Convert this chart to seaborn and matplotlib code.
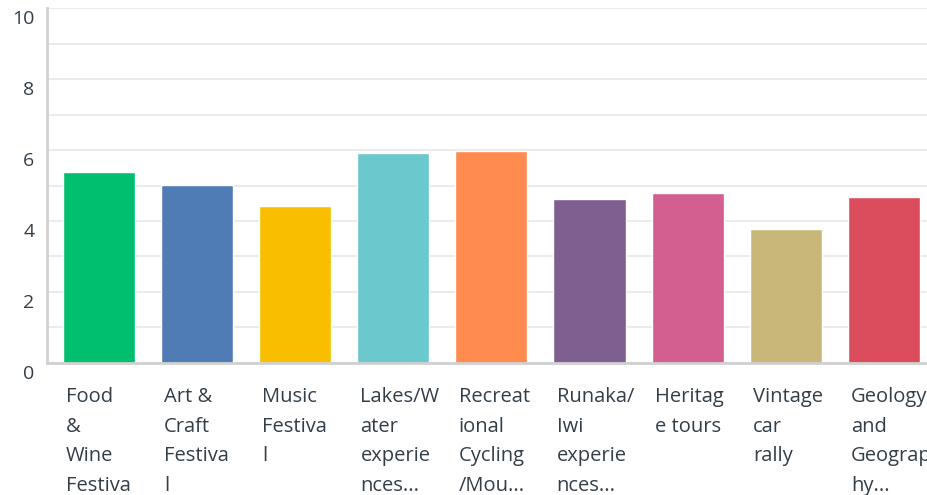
import matplotlib
matplotlib.use("Agg")
import matplotlib.pyplot as plt
import matplotlib.transforms as mtransforms
import seaborn as sns
import pandas as pd

categories = ["Food & Wine Festival", "Art & Craft Festival", "Music Festival",
              "Lakes/Water experiences", "Recreational Cycling/Mountain biking",
              "Runaka/Iwi experiences", "Heritage tours", "Vintage car rally",
              "Geology and Geography"]
tick_labels = ["Food\n&\nWine\nFestiva", "Art &\nCraft\nFestiva\nl", "Music\nFestiva\nl",
               "Lakes/W\nater\nexperie\nnces...", "Recreat\nional\nCycling\n/Mou...",
               "Runaka/\nIwi\nexperie\nnces...", "Heritag\ne tours", "Vintage\ncar\nrally",
               "Geology\nand\nGeograp\nhy..."]
values = [5.38, 5.01, 4.42, 5.91, 5.97, 4.61, 4.80, 3.77, 4.67]
colors = ["#00BF6F", "#507CB6", "#F9BE00", "#6BC8CD", "#FF8B4F",
          "#7F5F90", "#D25F90", "#C9B77A", "#DB4D5C"]
y_ticks = [0, 2, 4, 6, 8, 10]

sns.set_style("white")
plt.rcParams['font.family'] = ['Open Sans', 'DejaVu Sans']

df = pd.DataFrame({"cat": categories, "val": values})

fig = plt.figure(figsize=(9.27, 4.95), dpi=100)
ax = fig.add_axes([0.0507, 0.2667, 0.9493, 0.7171])

sns.barplot(data=df, x="cat", y="val", hue="cat", palette=colors, legend=False,
            width=0.735, saturation=1, ax=ax)

ax.set_ylim(0, 10)
ax.set_xlim(-0.53, 8.44)
ax.set_yticks(y_ticks)
ax.set_yticks(range(0, 11), minor=True)
ax.yaxis.grid(True, which='both', color='#ebebeb', linewidth=1.5)
ax.set_axisbelow(True)
ax.set_xlabel("")
ax.set_ylabel("")
ax.set_xticks([])

for s in ["top", "right"]:
    ax.spines[s].set_visible(False)
ax.spines["left"].set_color("#d0d0d0")
ax.spines["left"].set_linewidth(2)
ax.spines["bottom"].set_color("#d0d0d0")
ax.spines["bottom"].set_linewidth(2)

ax.tick_params(axis='y', which='both', length=0, pad=9, labelsize=14, labelcolor='#333e48')
offset = mtransforms.ScaledTranslation(0, -9 / 100, fig.dpi_scale_trans)
for lab in ax.get_yticklabels():
    lab.set_transform(lab.get_transform() + offset)

trans = mtransforms.blended_transform_factory(ax.transData, ax.transAxes)
down = mtransforms.ScaledTranslation(0, -24 / 100, fig.dpi_scale_trans)
for i, lab in enumerate(tick_labels):
    ax.text(i - 0.335, 0, lab, transform=trans + down, ha='left', va='top',
            fontsize=14.5, color='#333e48', linespacing=1.65, clip_on=False)

fig.savefig("out.png", dpi=100)
